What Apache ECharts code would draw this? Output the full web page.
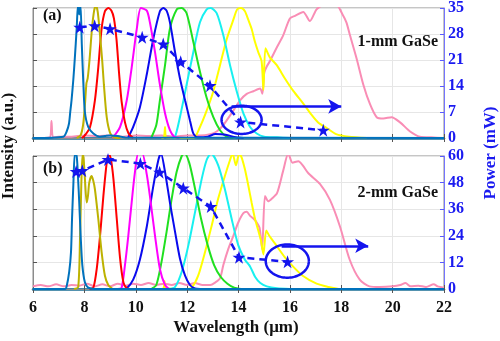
<!DOCTYPE html>
<html><head><meta charset="utf-8">
<script src="https://cdn.jsdelivr.net/npm/echarts@6/dist/echarts.min.js"></script>
<style>html,body{margin:0;padding:0;background:#fff}#c{width:500px;height:341px}</style>
</head><body><div id="c"></div>
<script>
// ---------- data ----------
const xTicks = [6, 8, 10, 12, 14, 16, 18, 20, 22];
const powerTicksA = [0, 7, 14, 21, 28, 35];
const powerTicksB = [0, 12, 24, 36, 48, 60];

// panel (a) 1-mm GaSe : power stars
const starXA = [7.82, 8.4, 9.0, 10.25, 11.07, 11.75, 12.89, 14.08, 17.3];
const starYA = [29.8, 30.2, 29.4, 27.1, 25.3, 20.5, 14.1, 4.3, 2.1];
// panel (b) 2-mm GaSe : power stars
const starXB = [7.68, 7.92, 8.92, 10.18, 10.93, 11.85, 12.92, 14.02, 15.91];
const starYB = [53.0, 53.4, 58.4, 56.6, 52.7, 45.5, 37.2, 14.3, 12.3];

// ellipse [cx, cy, rx, ry] and arrow [x0, x1, y] in data units
const ellipseA = [14.12, 4.9, 0.78, 3.8];
const arrowA = [13.73, 18.0, 8.5];
const ellipseB = [15.9, 12.6, 0.84, 7.5];
const arrowB = [15.68, 19.05, 19.5];

// spectra panel (a): [wavelength, normalized intensity]
const aSteel = [[6,0],[7.18,0.01],[7.31,0.05],[7.4,0.11],[7.45,0.2],[7.5,0.29],[7.57,0.45],[7.63,0.62],[7.7,0.84],[7.75,1.02],[7.8,0.95],[7.85,1.02],[7.9,0.72],[7.96,0.42],[8.02,0.2],[8.15,0.085],[8.35,0.035],[8.6,0.01],[8.8,0.015],[9.0,0.02],[9.3,0.015],[9.6,0.004],[22,0]];
const aOlive = [[7.7,0],[7.85,0.02],[7.95,0.1],[8.02,0.25],[8.08,0.42],[8.13,0.46],[8.2,0.6],[8.3,0.85],[8.38,0.98],[8.45,1.02],[8.52,0.97],[8.61,0.79],[8.7,0.58],[8.76,0.41],[8.87,0.16],[9.0,0.04],[9.15,0.005],[9.4,0]];
const aRed = [[7.9,0],[8.02,0.02],[8.22,0.085],[8.41,0.29],[8.54,0.54],[8.67,0.84],[8.8,0.975],[8.93,1.0],[9.05,0.98],[9.15,0.92],[9.25,0.76],[9.35,0.5],[9.45,0.28],[9.58,0.12],[9.72,0.035],[9.9,0]];
const aMagenta = [[9.1,0],[9.39,0.085],[9.65,0.29],[9.84,0.54],[10.04,0.84],[10.2,1.0],[10.43,0.98],[10.55,0.89],[10.75,0.66],[10.94,0.41],[11.14,0.19],[11.33,0.06],[11.5,0.01],[11.7,0]];
const aBlue = [[9.7,0],[9.9,0.085],[10.16,0.235],[10.43,0.49],[10.68,0.76],[10.94,0.975],[11.07,1.0],[11.2,0.98],[11.33,0.89],[11.53,0.66],[11.72,0.46],[11.92,0.29],[12.11,0.135],[12.24,0.035],[12.4,0.005],[12.8,0.01],[13.1,0.03],[13.5,0.025],[13.9,0.005],[14.2,0]];
const aGreen = [[10.6,0],[10.8,0.1],[10.94,0.29],[11.14,0.56],[11.33,0.84],[11.6,0.99],[11.79,1.0],[11.98,0.96],[12.24,0.74],[12.5,0.51],[12.76,0.31],[13.02,0.16],[13.28,0.06],[13.54,0.01],[13.8,0]];
const aCyan = [[11.4,0],[11.53,0.01],[11.72,0.16],[11.98,0.41],[12.24,0.66],[12.5,0.89],[12.76,0.99],[12.92,1.0],[13.15,0.96],[13.41,0.79],[13.67,0.56],[13.93,0.36],[14.19,0.19],[14.45,0.085],[14.71,0.035],[15.0,0.01],[15.5,0.005],[16,0]];
const aYellow = [[11.0,0],[11.1,0.005],[11.14,0.085],[11.18,0.005],[12.24,0],[12.5,0.085],[12.76,0.21],[13.02,0.36],[13.28,0.56],[13.54,0.76],[13.8,0.91],[13.95,0.99],[14.1,1.0],[14.25,0.975],[14.38,0.91],[14.51,0.84],[14.64,0.74],[14.77,0.66],[14.9,0.59],[14.97,0.37],[15.05,0.69],[15.22,0.62],[15.49,0.56],[15.8,0.46],[16.14,0.36],[16.5,0.27],[16.8,0.19],[17.1,0.12],[17.45,0.075],[17.8,0.03],[18.3,0.01],[19,0]];
const aPink = [[6.0,0],[6.65,0.005],[6.72,0.13],[6.78,0.005],[7.0,0.01],[7.5,0.01],[8.0,0.02],[8.5,0.015],[9.0,0.02],[9.5,0.01],[10.0,0.02],[10.5,0.015],[11.0,0.02],[11.5,0.01],[12.0,0.02],[12.5,0.02],[12.9,0.03],[13.15,0.05],[13.41,0.1],[13.8,0.21],[14.06,0.29],[14.32,0.34],[14.58,0.36],[14.84,0.38],[14.93,0.34],[15.0,0.5],[15.1,0.55],[15.22,0.59],[15.5,0.7],[15.74,0.79],[16.0,0.92],[16.2,0.94],[16.52,0.97],[16.78,0.9],[17.04,0.99],[17.3,1.02],[17.82,1.02],[18.05,0.95],[18.2,0.89],[18.34,0.79],[18.6,0.61],[18.86,0.41],[19.12,0.26],[19.38,0.16],[19.64,0.15],[19.96,0.16],[20.29,0.12],[20.68,0.05],[21.06,0.01],[21.5,0.005],[22,0]];

// spectra panel (b)
const bSteel = [[6,0],[7.25,0],[7.31,0.02],[7.41,0.13],[7.48,0.28],[7.52,0.53],[7.57,0.78],[7.63,1.02],[7.7,1.0],[7.75,0.85],[7.8,0.65],[7.86,0.38],[7.92,0.18],[8.02,0.05],[8.15,0.01],[8.4,0],[22,0]];
const bOlive = [[7.6,0],[7.76,0.015],[7.83,0.38],[7.88,0.78],[7.93,1.02],[7.97,0.98],[8.02,0.83],[8.09,0.65],[8.14,0.7],[8.19,0.8],[8.28,0.85],[8.34,0.82],[8.41,0.75],[8.54,0.53],[8.67,0.28],[8.8,0.1],[8.93,0.03],[9.1,0]];
const bRed = [[8.2,0],[8.35,0.01],[8.48,0.15],[8.61,0.4],[8.74,0.7],[8.87,0.95],[8.95,1.02],[9.03,0.98],[9.13,0.83],[9.26,0.53],[9.39,0.23],[9.52,0.05],[9.65,0.005],[9.8,0]];
const bMagenta = [[9.3,0],[9.45,0.01],[9.58,0.18],[9.71,0.4],[9.84,0.65],[9.97,0.88],[10.1,1.02],[10.25,1.02],[10.43,0.86],[10.55,0.7],[10.75,0.4],[10.94,0.15],[11.14,0.03],[11.3,0]];
const bBlue = [[9.5,0],[9.65,0.005],[9.9,0.07],[10.16,0.22],[10.43,0.47],[10.68,0.77],[10.88,0.97],[10.98,1.02],[11.14,0.88],[11.33,0.65],[11.53,0.43],[11.72,0.23],[11.92,0.1],[12.11,0.03],[12.3,0.005],[12.5,0]];
const bGreen = [[10.6,0],[10.8,0.03],[11.0,0.2],[11.2,0.43],[11.4,0.68],[11.59,0.88],[11.79,1.0],[11.9,1.02],[12.08,0.95],[12.28,0.78],[12.54,0.53],[12.8,0.33],[13.05,0.18],[13.31,0.09],[13.57,0.04],[13.83,0.01],[14.1,0]];
const bCyan = [[11.3,0],[11.53,0.015],[11.79,0.13],[12.05,0.33],[12.31,0.58],[12.57,0.83],[12.76,0.97],[12.93,1.02],[13.21,0.93],[13.47,0.75],[13.73,0.53],[13.99,0.33],[14.25,0.22],[14.45,0.17],[14.65,0.09],[14.85,0.045],[15.1,0.02],[15.5,0.005],[16,0]];
const bYellow = [[10.9,0],[11.08,0.005],[11.12,0.06],[11.16,0.005],[12.0,0],[12.18,0.01],[12.43,0.1],[12.7,0.28],[12.96,0.48],[13.21,0.68],[13.47,0.85],[13.67,0.97],[13.77,1.02],[13.9,0.93],[14.03,1.02],[14.12,0.99],[14.25,0.9],[14.38,0.78],[14.51,0.65],[14.64,0.53],[14.77,0.44],[14.88,0.36],[14.97,0.26],[15.08,0.44],[15.2,0.4],[15.5,0.32],[15.8,0.24],[16.12,0.17],[16.5,0.1],[17.04,0.04],[17.5,0.015],[17.9,0]];
const bPink = [[6.0,0.02],[6.3,0.03],[6.6,0.02],[6.9,0.035],[7.2,0.02],[7.5,0.03],[7.8,0.025],[8.1,0.04],[8.4,0.02],[8.7,0.035],[9.0,0.02],[9.3,0.04],[9.6,0.025],[9.9,0.04],[10.2,0.03],[10.5,0.045],[10.8,0.03],[11.1,0.04],[11.4,0.03],[11.7,0.045],[12.0,0.03],[12.3,0.045],[12.6,0.03],[12.9,0.03],[13.1,0.05],[13.28,0.08],[13.41,0.18],[13.6,0.3],[13.8,0.4],[13.99,0.5],[14.19,0.57],[14.32,0.58],[14.45,0.55],[14.58,0.53],[14.71,0.5],[14.82,0.46],[14.92,0.3],[15.03,0.7],[15.16,0.66],[15.3,0.68],[15.5,0.72],[15.74,0.89],[15.94,1.02],[16.1,0.95],[16.33,0.96],[16.5,0.93],[16.72,0.87],[17.17,0.79],[17.56,0.67],[17.95,0.47],[18.33,0.22],[18.72,0.07],[19.1,0.02],[19.5,0.015],[20.0,0.02],[20.3,0.03],[20.5,0.045],[20.7,0.02],[21.0,0.025],[21.3,0.015],[21.6,0.035],[21.75,0.02],[22,0.01]];

// ---------- styling ----------
const FONT = "'Liberation Serif','Times New Roman',serif";
const BLUE = '#1414ee';
const AXBLUE = '#1a1af0';
const C = {steel:'#0072BD', olive:'#BDB200', red:'#ff0000', magenta:'#ff00ff', blue:'#0a0aee',
           green:'#20e020', cyan:'#18f0f0', yellow:'#ffff00', pink:'#f98db5'};
const STAR = 'path://M50,0 L61.8,35.1 L98.9,35.1 L68.9,56.9 L80.3,92.1 L50,70.3 L19.7,92.1 L31.1,56.9 L1.1,35.1 L38.2,35.1 Z';

function spec(data, color, xi, yi){
  return {type:'line', data:data, xAxisIndex:xi, yAxisIndex:yi, symbol:'none', smooth:0.25,
    lineStyle:{color:color, width:2}, itemStyle:{color:color}, z:2, silent:true, animation:false};
}
function zip(xs, ys){ return xs.map((x,i)=>[x, ys[i]]); }
function ellipseSeries(e, xi, yi){
  return {type:'custom', xAxisIndex:xi, yAxisIndex:yi, data:[e], clip:false, z:6, silent:true, animation:false,
    renderItem:function(params, api){
      const cx=api.value(0), cy=api.value(1), rx=api.value(2), ry=api.value(3);
      const pts=[];
      for(let i=0;i<=90;i++){const t=i/90*2*Math.PI; pts.push(api.coord([cx+rx*Math.cos(t), cy+ry*Math.sin(t)]));}
      return {type:'polyline', shape:{points:pts}, style:{stroke:BLUE, lineWidth:2.5, fill:null}};
    }};
}
function starSeries(xs, ys, arrow, xi, yi){
  return {type:'line', data:zip(xs, ys), xAxisIndex:xi, yAxisIndex:yi, symbol:STAR, symbolSize:13,
    lineStyle:{color:BLUE, width:2.5, type:[7,5]}, itemStyle:{color:BLUE}, z:5, animation:false,
    markLine:{silent:true, symbol:['none','arrow'], symbolSize:[11,13], animation:false,
      lineStyle:{color:BLUE, width:2.5, type:'solid'}, label:{show:false},
      data:[[{coord:[arrow[0], arrow[2]]},{coord:[arrow[1], arrow[2]]}]]}};
}

const GRID_COLOR = '#e6e6e6';
function xAxisDef(gi, pos, showLabels){
  return {type:'value', gridIndex:gi, position:pos, min:xTicks[0], max:xTicks[xTicks.length-1], interval:2,
    axisLine:{show:true, lineStyle:{color: pos==='bottom' ? '#1d6f95' : '#8c8c8c', width: pos==='bottom'?2.5:1}},
    axisTick:{show:true, inside:true, length:4, lineStyle:{color:'#555'}},
    splitLine:{show: pos==='bottom', lineStyle:{color:GRID_COLOR, width:1}},
    axisLabel:{show:showLabels, margin:11, color:'#111', fontFamily:FONT, fontWeight:'bold', fontSize:16}};
}
function leftY(gi){
  return {type:'value', gridIndex:gi, position:'left', min:0, max:1, interval:0.2,
    axisLine:{show:true, lineStyle:{color:'#8c8c8c'}}, axisTick:{show:true, inside:true, length:4, lineStyle:{color:'#555'}},
    axisLabel:{show:false}, splitLine:{show:true, lineStyle:{color:GRID_COLOR}}};
}
function rightY(gi, ticks){
  return {type:'value', gridIndex:gi, position:'right', min:ticks[0], max:ticks[ticks.length-1], interval:ticks[1]-ticks[0],
    axisLine:{show:true, lineStyle:{color:'#7474ff', width:1}}, axisTick:{show:true, inside:true, length:4, lineStyle:{color:'#5a5aff'}},
    axisLabel:{show:true, margin:4, color:AXBLUE, fontFamily:FONT, fontWeight:'bold', fontSize:16},
    splitLine:{show:false}};
}

const chart = echarts.init(document.getElementById('c'), null, {renderer:'canvas'});
const option = {
  backgroundColor:'#fff',
  animation:false,
  grid:[
    {left:33, top:5, width:411, height:133, show:true, borderColor:'#8c8c8c', borderWidth:1, backgroundColor:'#fff'},
    {left:33, top:156, width:411, height:133, show:true, borderColor:'#8c8c8c', borderWidth:1, backgroundColor:'#fff'}
  ],
  xAxis:[xAxisDef(0,'bottom',false), xAxisDef(0,'top',false), xAxisDef(1,'bottom',true), xAxisDef(1,'top',false)],
  yAxis:[leftY(0), rightY(0, powerTicksA), leftY(1), rightY(1, powerTicksB)],
  series:[
    spec(aPink, C.pink, 0, 0), spec(aYellow, C.yellow, 0, 0), spec(aCyan, C.cyan, 0, 0), spec(aGreen, C.green, 0, 0),
    spec(aBlue, C.blue, 0, 0), spec(aMagenta, C.magenta, 0, 0), spec(aRed, C.red, 0, 0), spec(aOlive, C.olive, 0, 0),
    spec(aSteel, C.steel, 0, 0),
    spec(bPink, C.pink, 2, 2), spec(bYellow, C.yellow, 2, 2), spec(bCyan, C.cyan, 2, 2), spec(bGreen, C.green, 2, 2),
    spec(bBlue, C.blue, 2, 2), spec(bMagenta, C.magenta, 2, 2), spec(bRed, C.red, 2, 2), spec(bOlive, C.olive, 2, 2),
    spec(bSteel, C.steel, 2, 2),
    starSeries(starXA, starYA, arrowA, 0, 1),
    starSeries(starXB, starYB, arrowB, 2, 3),
    ellipseSeries(ellipseA, 0, 1),
    ellipseSeries(ellipseB, 2, 3)
  ],
  graphic:[
    {type:'text', left:43, top:8, z:10, style:{text:'(a)', font:'bold 16px '+FONT, fill:'#111'}},
    {type:'text', left:43, top:161, z:10, style:{text:'(b)', font:'bold 16px '+FONT, fill:'#111'}},
    {type:'text', x:438, y:42, z:10, style:{text:'1-mm GaSe', font:'bold 16px '+FONT, fill:'#111', align:'right', verticalAlign:'middle'}},
    {type:'text', x:438, y:193, z:10, style:{text:'2-mm GaSe', font:'bold 16px '+FONT, fill:'#111', align:'right', verticalAlign:'middle'}},
    {type:'text', x:236, y:328, z:10, style:{text:'Wavelength (μm)', font:'bold 17px '+FONT, fill:'#111', align:'center', verticalAlign:'middle'}},
    {type:'text', x:9, y:146, rotation:Math.PI/2, z:10, style:{text:'Intensity (a.u.)', font:'bold 17px '+FONT, fill:'#111', align:'center', verticalAlign:'middle'}},
    {type:'text', x:491, y:153, rotation:Math.PI/2, z:10, style:{text:'Power (mW)', font:'bold 17px '+FONT, fill:AXBLUE, align:'center', verticalAlign:'middle'}}
  ]
};
chart.setOption(option);
</script>
</body></html>
